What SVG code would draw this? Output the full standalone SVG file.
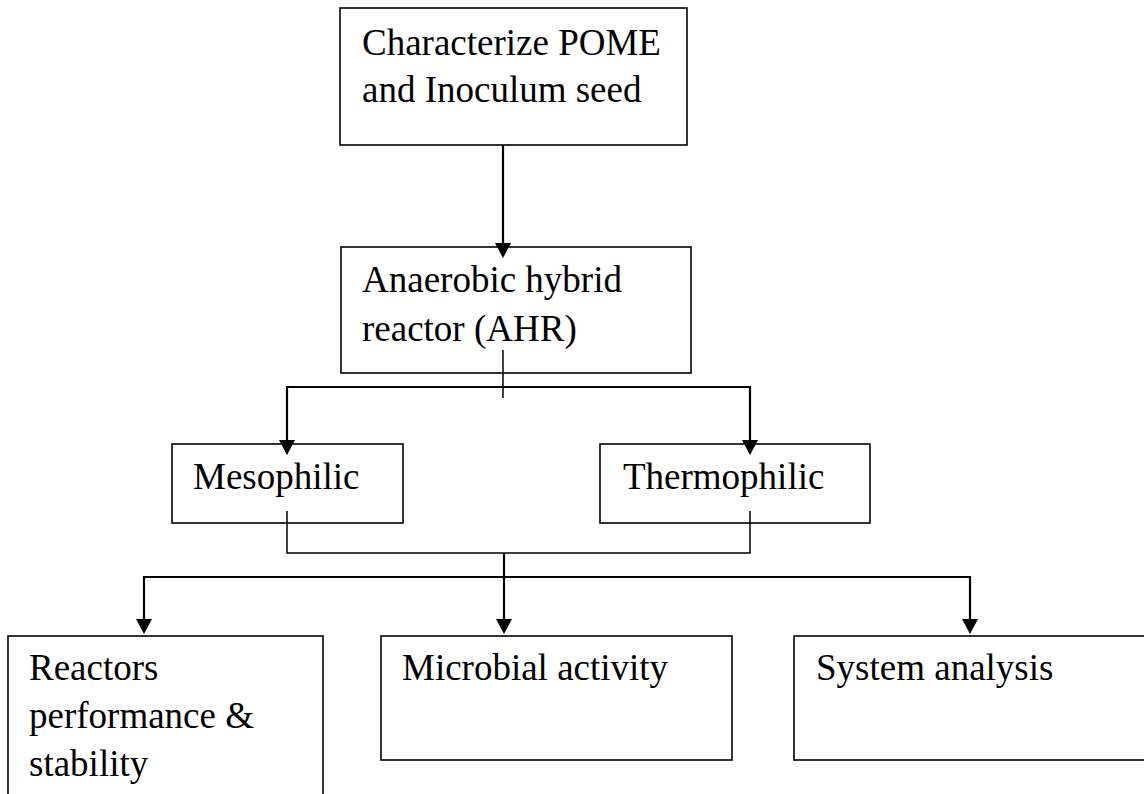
<svg xmlns="http://www.w3.org/2000/svg" width="1144" height="794" viewBox="0 0 1144 794">
  <style>
    .box { fill: none; stroke: #000; stroke-width: 1.6; }
    .lbl { font-family: "Liberation Serif", "Times New Roman", serif; font-size: 37px; fill: #000; }
    .wire { fill: none; stroke: #000; stroke-width: 1.5; }
    .feed { fill: none; stroke: #000; stroke-width: 2.2; }
    .head { fill: #000; stroke: none; }
  </style>

  <rect width="1144" height="794" fill="#fff"/>

  <g id="characterize">
    <rect class="box" x="340" y="8" width="347" height="137"/>
    <text class="lbl" x="362" y="55">Characterize POME</text>
    <text class="lbl" x="362" y="102">and Inoculum seed</text>
  </g>

  <g id="ahr">
    <rect class="box" x="341" y="247" width="350" height="126"/>
    <text class="lbl" x="362" y="292">Anaerobic hybrid</text>
    <text class="lbl" x="362" y="341">reactor (AHR)</text>
  </g>

  <g id="mesophilic">
    <rect class="box" x="172" y="444" width="231" height="79"/>
    <text class="lbl" x="193" y="489">Mesophilic</text>
  </g>

  <g id="thermophilic">
    <rect class="box" x="600" y="444" width="270" height="79"/>
    <text class="lbl" x="623" y="489">Thermophilic</text>
  </g>

  <g id="performance">
    <rect class="box" x="8" y="636" width="315" height="170"/>
    <text class="lbl" x="29" y="680">Reactors</text>
    <text class="lbl" x="29" y="728">performance &amp;</text>
    <text class="lbl" x="29" y="776">stability</text>
  </g>

  <g id="microbial">
    <rect class="box" x="381" y="636" width="351" height="124"/>
    <text class="lbl" x="402" y="680">Microbial activity</text>
  </g>

  <g id="system">
    <rect class="box" x="794" y="636" width="360" height="124"/>
    <text class="lbl" x="816" y="680">System analysis</text>
  </g>

  <!-- connectors, drawn over the boxes so stubs inside them stay visible -->
  <g id="connectors">
    <!-- characterization to AHR -->
    <line class="feed" x1="503" y1="145" x2="503" y2="244"/>
    <polygon class="head" points="495,243 511,243 503,258"/>
    <!-- AHR split to the two temperature regimes -->
    <line class="wire" x1="503" y1="350" x2="503" y2="398"/>
    <polyline class="feed" points="287,441 287,387 750,387 750,441"/>
    <polygon class="head" points="279,440 295,440 287,455"/>
    <polygon class="head" points="742,440 758,440 750,455"/>
    <!-- regimes join back -->
    <polyline class="wire" points="287,511 287,553 750,553 750,511"/>
    <line class="feed" x1="504" y1="553" x2="504" y2="620"/>
    <polygon class="head" points="496,619 512,619 504,634"/>
    <!-- distribution to the three studies -->
    <polyline class="feed" points="144,620 144,577 970,577 970,620"/>
    <polygon class="head" points="136,619 152,619 144,634"/>
    <polygon class="head" points="962,619 978,619 970,634"/>
  </g>
</svg>
